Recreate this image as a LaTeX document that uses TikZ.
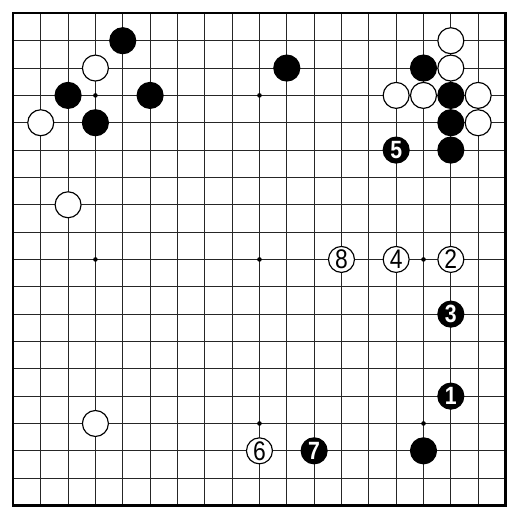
\documentclass[tikz,border=0pt]{standalone}
\usepackage{fontspec}
\usepackage{tikz}
\newfontfamily\movefont{Liberation Sans}
\newcommand{\mv}[1]{\scalebox{0.85}[1]{#1}}

\begin{document}
\begin{tikzpicture}[x=0.5cm,y=0.5cm]
            \tikzstyle{gridline}=[line width=0.55pt,black!85]
            \tikzstyle{frame}=[line width=1.1pt]
            \tikzstyle{hoshi}=[circle,fill=black,inner sep=0pt,minimum size=2.4pt]
            \tikzstyle{black stone}=[circle,draw,fill=black,line width=0.6pt,inner sep=0pt,minimum size=0.475cm,text=white,font=\movefont\fontsize{13}{13}\selectfont\bfseries]
            \tikzstyle{white stone}=[circle,draw,fill=white,line width=0.6pt,inner sep=0pt,minimum size=0.475cm,text=black,font=\movefont\fontsize{14}{14}\selectfont]
            \useasboundingbox (-0.49,-0.53) rectangle (18.53,18.49);
            % board
            \foreach \i in {1,...,17} {
                \draw[gridline] (\i,0) -- (\i,18);
                \draw[gridline] (0,\i) -- (18,\i);
            }
            \draw[frame] (0,0) rectangle (18,18);
            \foreach \x/\y [count=\k] in {3/15,9/15,15/15,3/9,9/9,15/9,3/3,9/3,15/3}
                \node[hoshi] (h\k) at (\x,\y) {};
            % black stones
            \foreach \x/\y [count=\k] in {4/17,2/15,5/15,3/14,10/16,15/16,16/15,16/14,16/13,15/2}
                \node[black stone] (b\k) at (\x,\y) {};
            % white stones
            \foreach \x/\y [count=\k] in {3/16,1/14,2/11,3/3,16/17,16/16,14/15,15/15,17/15,17/14}
                \node[white stone] (w\k) at (\x,\y) {};
            % moves
            \node[black stone] (m1) at (16,4) {\mv{1}};
            \node[white stone] (m2) at (16,9) {\mv{2}};
            \node[black stone] (m3) at (16,7) {\mv{3}};
            \node[white stone] (m4) at (14,9) {\mv{4}};
            \node[black stone] (m5) at (14,13) {\mv{5}};
            \node[white stone] (m6) at (9,2) {\mv{6}};
            \node[black stone] (m7) at (11,2) {\mv{7}};
            \node[white stone] (m8) at (12,9) {\mv{8}};
        \end{tikzpicture}
\end{document}
